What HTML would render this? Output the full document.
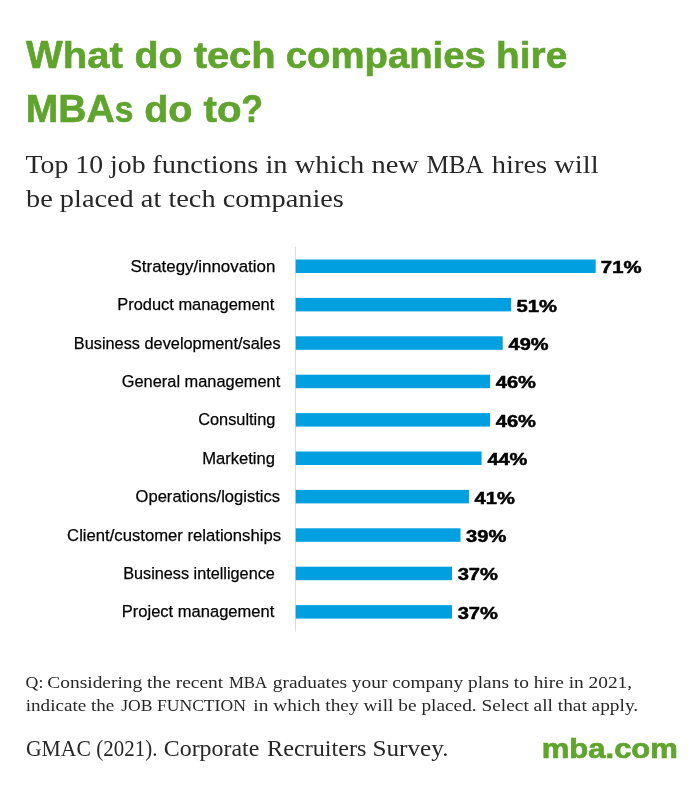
<!DOCTYPE html><html><head><meta charset="utf-8"><title>What do tech companies hire MBAs to do?</title><style>
html,body{margin:0;padding:0;background:#fff}
body{width:700px;height:800px;position:relative;overflow:hidden;font-family:"Liberation Sans",sans-serif}
.t{position:absolute;white-space:nowrap;line-height:1;margin:0;padding:0;display:block;transform-origin:0 0}
h1,p{margin:0;padding:0;font-size:0;line-height:0}
.row,.chart,.logo{font-size:0;line-height:0}
#wrap{position:absolute;left:0;top:0;width:700px;height:800px;will-change:transform}
svg{position:absolute;left:0;top:0}

</style></head><body>
<svg width="700" height="800" viewBox="0 0 700 800"><rect x="295" y="247" width="1" height="384.5" fill="#dcdcdc"/><rect x="295.7" y="259.50" width="299.97" height="13.5" fill="#00a0e0"/><rect x="295.7" y="297.90" width="215.47" height="13.5" fill="#00a0e0"/><rect x="295.7" y="336.30" width="207.02" height="13.5" fill="#00a0e0"/><rect x="295.7" y="374.70" width="194.35" height="13.5" fill="#00a0e0"/><rect x="295.7" y="413.10" width="194.35" height="13.5" fill="#00a0e0"/><rect x="295.7" y="451.50" width="185.90" height="13.5" fill="#00a0e0"/><rect x="295.7" y="489.90" width="173.22" height="13.5" fill="#00a0e0"/><rect x="295.7" y="528.30" width="164.77" height="13.5" fill="#00a0e0"/><rect x="295.7" y="566.70" width="156.32" height="13.5" fill="#00a0e0"/><rect x="295.7" y="605.10" width="156.32" height="13.5" fill="#00a0e0"/></svg>
<div id="wrap">
<h1 class="title"><span class="t" id="t1_0" style='left:26px;top:37px;font:700 37.9px "Liberation Sans";line-height:1;color:#5fa42c;-webkit-text-stroke:0.6px #5fa42c;transform:translateX(0.05px) scaleX(1.0265)'>W</span><span class="t" id="t1_1" style='left:62px;top:37px;font:700 37.3px "Liberation Sans";line-height:1;color:#5fa42c;-webkit-text-stroke:0.6px #5fa42c;transform:translateX(0.65px) scaleX(1.0743)'>hat</span> <span class="t" id="t1_2" style='left:134px;top:37px;font:700 37.3px "Liberation Sans";line-height:1;color:#5fa42c;-webkit-text-stroke:0.6px #5fa42c;transform:translateX(0.54px) scaleX(1.0531)'>do</span> <span class="t" id="t1_3" style='left:193px;top:37px;font:700 37.3px "Liberation Sans";line-height:1;color:#5fa42c;-webkit-text-stroke:0.6px #5fa42c;transform:translateX(0.65px) scaleX(1.0694)'>tech</span> <span class="t" id="t1_4" style='left:285px;top:37px;font:700 37.3px "Liberation Sans";line-height:1;color:#5fa42c;-webkit-text-stroke:0.6px #5fa42c;transform:translateX(0.67px) scaleX(1.0275)'>companies</span> <span class="t" id="t1_5" style='left:496px;top:37px;font:700 37.3px "Liberation Sans";line-height:1;color:#5fa42c;-webkit-text-stroke:0.6px #5fa42c;transform:translateX(0.12px) scaleX(1.0388)'>hire</span> <span class="t" id="t2_0" style='left:25px;top:91px;font:700 37.9px "Liberation Sans";line-height:1;color:#5fa42c;-webkit-text-stroke:0.6px #5fa42c;transform:translateX(0.69px) scaleX(1.0307)'>MBA</span><span class="t" id="t2_1" style='left:114px;top:91px;font:700 37.3px "Liberation Sans";line-height:1;color:#5fa42c;-webkit-text-stroke:0.6px #5fa42c;transform:translateX(0.70px) scaleX(0.8983)'>s</span> <span class="t" id="t2_2" style='left:144px;top:91px;font:700 37.3px "Liberation Sans";line-height:1;color:#5fa42c;-webkit-text-stroke:0.6px #5fa42c;transform:translateX(0.24px) scaleX(1.0588)'>do</span> <span class="t" id="t2_3" style='left:203px;top:91px;font:700 37.3px "Liberation Sans";line-height:1;color:#5fa42c;-webkit-text-stroke:0.6px #5fa42c;transform:translateX(0.55px) scaleX(1.0780)'>to</span><span class="t" id="t2_4" style='left:241px;top:91px;font:700 37.9px "Liberation Sans";line-height:1;color:#5fa42c;-webkit-text-stroke:0.6px #5fa42c;transform:translateX(0.35px) scaleX(0.9450)'>?</span></h1>
<p class="sub"><span class="t" id="s1a" style='left:25px;top:153px;font:400 24.5px "Liberation Serif";line-height:1;color:#272727;transform:translateX(0.49px) scaleX(1.1350)'>Top 10 job</span> <span class="t" id="s1a2" style='left:152px;top:153px;font:400 24.5px "Liberation Serif";line-height:1;color:#272727;transform:translateX(0.30px) scaleX(1.1624)'>functions in which new</span> <span class="t" id="s1b" style='left:426px;top:153px;font:400 24.5px "Liberation Serif";line-height:1;color:#272727;transform:translateX(0.54px) scaleX(1.0248)'>MBA</span> <span class="t" id="s1c" style='left:491px;top:153px;font:400 24.5px "Liberation Serif";line-height:1;color:#272727;transform:translateX(0.80px) scaleX(1.1619)'>hires will</span> <span class="t" id="s2" style='left:26px;top:187px;font:400 24.5px "Liberation Serif";line-height:1;color:#272727;transform:translateX(0.00px) scaleX(1.1567)'>be placed at tech companies</span></p>
<div class="chart">
<div class="row"><span class="t" id="c0" style='left:130px;top:258px;font:400 17.4px "Liberation Sans";line-height:1;color:#000;-webkit-text-stroke:0.25px #000;transform:translateX(0.50px) scaleX(0.9733)'>Strategy/innovation</span> <span class="t" id="p0" style='left:600px;top:259px;font:700 17.1px "Liberation Sans";line-height:1;color:#000;-webkit-text-stroke:0.5px #000;transform:translateX(0.87px) scaleX(1.1908)'>71%</span></div>
<div class="row"><span class="t" id="c1" style='left:117px;top:296px;font:400 17.4px "Liberation Sans";line-height:1;color:#000;-webkit-text-stroke:0.25px #000;transform:translateX(0.26px) scaleX(0.9444)'>Product management</span> <span class="t" id="p1" style='left:516px;top:298px;font:700 17.1px "Liberation Sans";line-height:1;color:#000;-webkit-text-stroke:0.5px #000;transform:translateX(0.62px) scaleX(1.1834)'>51%</span></div>
<div class="row"><span class="t" id="c2" style='left:73px;top:335px;font:400 17.4px "Liberation Sans";line-height:1;color:#000;-webkit-text-stroke:0.25px #000;transform:translateX(0.76px) scaleX(0.9383)'>Business development/sales</span> <span class="t" id="p2" style='left:508px;top:336px;font:700 17.1px "Liberation Sans";line-height:1;color:#000;-webkit-text-stroke:0.5px #000;transform:translateX(0.52px) scaleX(1.1687)'>49%</span></div>
<div class="row"><span class="t" id="c3" style='left:121px;top:373px;font:400 17.4px "Liberation Sans";line-height:1;color:#000;-webkit-text-stroke:0.25px #000;transform:translateX(0.75px) scaleX(0.9420)'>General management</span> <span class="t" id="p3" style='left:495px;top:374px;font:700 17.1px "Liberation Sans";line-height:1;color:#000;-webkit-text-stroke:0.5px #000;transform:translateX(0.75px) scaleX(1.1760)'>46%</span></div>
<div class="row"><span class="t" id="c4" style='left:198px;top:411px;font:400 17.4px "Liberation Sans";line-height:1;color:#000;-webkit-text-stroke:0.25px #000;transform:translateX(0.14px) scaleX(0.9406)'>Consulting</span> <span class="t" id="p4" style='left:495px;top:413px;font:700 17.1px "Liberation Sans";line-height:1;color:#000;-webkit-text-stroke:0.5px #000;transform:translateX(0.75px) scaleX(1.1760)'>46%</span></div>
<div class="row"><span class="t" id="c5" style='left:202px;top:450px;font:400 17.4px "Liberation Sans";line-height:1;color:#000;-webkit-text-stroke:0.25px #000;transform:translateX(0.14px) scaleX(0.9541)'>Marketing</span> <span class="t" id="p5" style='left:487px;top:451px;font:700 17.1px "Liberation Sans";line-height:1;color:#000;-webkit-text-stroke:0.5px #000;transform:translateX(0.40px) scaleX(1.1687)'>44%</span></div>
<div class="row"><span class="t" id="c6" style='left:135px;top:488px;font:400 17.4px "Liberation Sans";line-height:1;color:#000;-webkit-text-stroke:0.25px #000;transform:translateX(0.59px) scaleX(0.9517)'>Operations/logistics</span> <span class="t" id="p6" style='left:474px;top:490px;font:700 17.1px "Liberation Sans";line-height:1;color:#000;-webkit-text-stroke:0.5px #000;transform:translateX(0.62px) scaleX(1.1761)'>41%</span></div>
<div class="row"><span class="t" id="c7" style='left:67px;top:527px;font:400 17.4px "Liberation Sans";line-height:1;color:#000;-webkit-text-stroke:0.25px #000;transform:translateX(0.10px) scaleX(0.9581)'>Client/customer relationships</span> <span class="t" id="p7" style='left:466px;top:528px;font:700 17.1px "Liberation Sans";line-height:1;color:#000;-webkit-text-stroke:0.5px #000;transform:translateX(0.02px) scaleX(1.1760)'>39%</span></div>
<div class="row"><span class="t" id="c8" style='left:123px;top:565px;font:400 17.4px "Liberation Sans";line-height:1;color:#000;-webkit-text-stroke:0.25px #000;transform:translateX(0.17px) scaleX(0.9338)'>Business intelligence</span> <span class="t" id="p8" style='left:457px;top:566px;font:700 17.1px "Liberation Sans";line-height:1;color:#000;-webkit-text-stroke:0.5px #000;transform:translateX(0.67px) scaleX(1.1760)'>37%</span></div>
<div class="row"><span class="t" id="c9" style='left:121px;top:603px;font:400 17.4px "Liberation Sans";line-height:1;color:#000;-webkit-text-stroke:0.25px #000;transform:translateX(0.75px) scaleX(0.9506)'>Project management</span> <span class="t" id="p9" style='left:457px;top:605px;font:700 17.1px "Liberation Sans";line-height:1;color:#000;-webkit-text-stroke:0.5px #000;transform:translateX(0.67px) scaleX(1.1760)'>37%</span></div>
</div>
<p class="note"><span class="t" id="q1a" style='left:25px;top:674px;font:400 17.4px "Liberation Serif";line-height:1;color:#272727;transform:translateX(0.59px) scaleX(1.0233)'>Q:</span> <span class="t" id="q1a2" style='left:47px;top:674px;font:400 17.4px "Liberation Serif";line-height:1;color:#272727;transform:translateX(0.30px) scaleX(1.1168)'>Considering the recent</span> <span class="t" id="q1b" style='left:228px;top:674px;font:400 17.4px "Liberation Serif";line-height:1;color:#272727;transform:translateX(0.89px) scaleX(0.9654)'>MBA</span> <span class="t" id="q1c" style='left:272px;top:674px;font:400 17.4px "Liberation Serif";line-height:1;color:#272727;transform:translateX(0.80px) scaleX(1.1138)'>graduates your company plans to hire in 2021,</span> <span class="t" id="q2a" style='left:25px;top:697px;font:400 17.4px "Liberation Serif";line-height:1;color:#272727;transform:translateX(0.75px) scaleX(1.0976)'>indicate the</span> <span class="t" id="q2b" style='left:121px;top:697px;font:400 17.4px "Liberation Serif";line-height:1;color:#272727;transform:translateX(0.20px) scaleX(1.0123)'>JOB FUNCTION</span> <span class="t" id="q2c" style='left:253px;top:697px;font:400 17.4px "Liberation Serif";line-height:1;color:#272727;transform:translateX(0.30px) scaleX(1.1119)'>in which they will be placed. Select all that apply.</span></p>
<p class="src"><span class="t" id="g1a" style='left:25px;top:738px;font:400 22.6px "Liberation Serif";line-height:1;color:#272727;transform:translateX(0.93px) scaleX(0.9572)'>GMAC</span> <span class="t" id="g1b" style='left:96px;top:738px;font:400 22.6px "Liberation Serif";line-height:1;color:#272727;transform:translateX(0.37px) scaleX(0.9271)'>(2021).</span> <span class="t" id="g1c" style='left:163px;top:738px;font:400 22.6px "Liberation Serif";line-height:1;color:#272727;transform:translateX(0.78px) scaleX(1.0566)'>Corporate</span> <span class="t" id="g1d" style='left:267px;top:738px;font:400 22.6px "Liberation Serif";line-height:1;color:#272727;transform:translateX(0.05px) scaleX(1.0701)'>Recruiters</span> <span class="t" id="g1e" style='left:372px;top:738px;font:400 22.6px "Liberation Serif";line-height:1;color:#272727;transform:translateX(0.38px) scaleX(1.1155)'>Survey.</span></p>
<div class="logo"><span class="t" id="lg" style='left:541px;top:735px;font:700 27.6px "Liberation Sans";line-height:1;color:#5fa42c;-webkit-text-stroke:0.7px #5fa42c;transform:translateX(0.83px) scaleX(1.1226)'>mba.com</span></div>
</div>
</body></html>
